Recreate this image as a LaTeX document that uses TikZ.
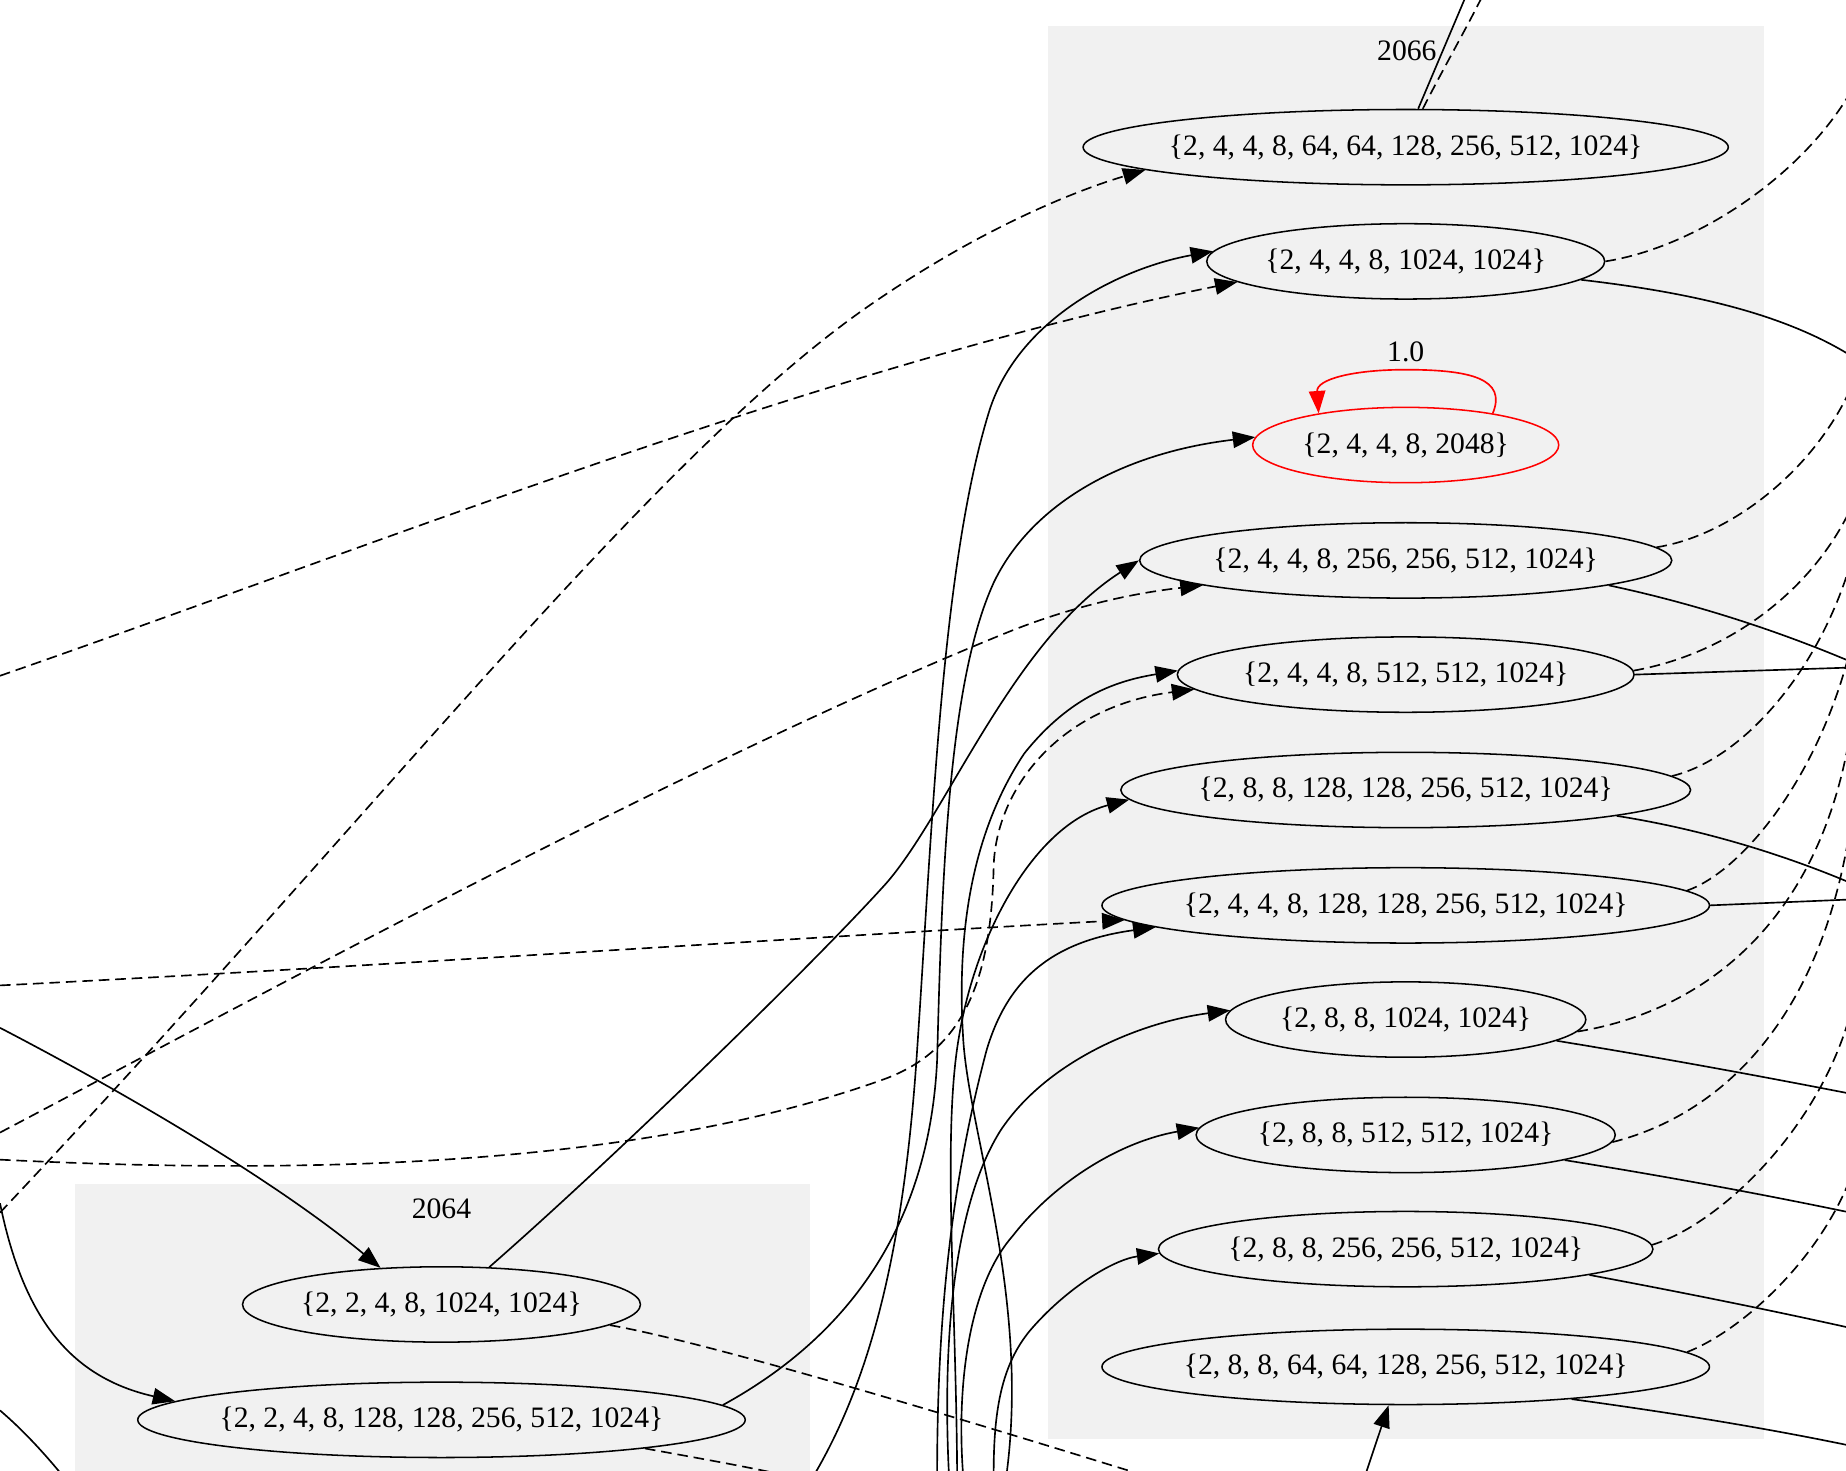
\documentclass[tikz,border=0pt]{standalone}
\usepackage{fontspec}
\setmainfont{Liberation Serif}
\usetikzlibrary{arrows.meta, shapes.geometric}
\definecolor{clusgray}{RGB}{241,241,241}

\tikzset{
  st/.style={draw, ellipse, line width=0.65pt, minimum width=#1, minimum height=32pt, inner xsep=-10pt, inner ysep=1pt},
  edg/.style={line width=0.7pt},
  dsh/.style={edg, dash pattern=on 4.5pt off 2.5pt},
  arr/.style={-{Triangle[length=9.5pt,width=7pt]}}
}

\begin{document}
\begin{tikzpicture}[x=0.5pt, y=-0.5pt, font=\fontsize{12.6pt}{15pt}\selectfont]
\useasboundingbox (0,0) rectangle (1568,1249);
\clip (0,0) rectangle (1568,1249);

% clusters
\fill[clusgray] (890,22) rectangle (1498,1222);
\fill[clusgray] (64,1006) rectangle (688,1260);
\node (l2066) at (1195,43) {2066};
\node (l2064) at (375,1027) {2064};

% states of 2066
\node[st=274pt] (s1) at (1194,125) {\{2, 4, 4, 8, 64, 64, 128, 256, 512, 1024\}};
\node[st=169pt] (s2) at (1194,222) {\{2, 4, 4, 8, 1024, 1024\}};
\node[st=130pt, draw=red] (s3) at (1194,378) {\{2, 4, 4, 8, 2048\}};
\node[st=226pt] (s4) at (1194,476) {\{2, 4, 4, 8, 256, 256, 512, 1024\}};
\node[st=194pt] (s5) at (1194,573) {\{2, 4, 4, 8, 512, 512, 1024\}};
\node[st=242pt] (s6) at (1194,671) {\{2, 8, 8, 128, 128, 256, 512, 1024\}};
\node[st=258pt] (s7) at (1194,769) {\{2, 4, 4, 8, 128, 128, 256, 512, 1024\}};
\node[st=153pt] (s8) at (1194,866) {\{2, 8, 8, 1024, 1024\}};
\node[st=178pt] (s9) at (1194,964) {\{2, 8, 8, 512, 512, 1024\}};
\node[st=210pt] (s10) at (1194,1061) {\{2, 8, 8, 256, 256, 512, 1024\}};
\node[st=258pt] (s11) at (1194,1161) {\{2, 8, 8, 64, 64, 128, 256, 512, 1024\}};

% states of 2064
\node[st=169pt] (m1) at (375,1108) {\{2, 2, 4, 8, 1024, 1024\}};
\node[st=258pt] (m2) at (375,1206) {\{2, 2, 4, 8, 128, 128, 256, 512, 1024\}};

% loose ends at the border
\coordinate (inA) at (0,574);
\coordinate (inB) at (0,1030);
\coordinate (inC) at (0,962);
\coordinate (inD) at (0,837);
\coordinate (inE) at (0,985);
\coordinate (inF) at (0,873);
\coordinate (inG) at (0,1022);
\coordinate (inH) at (0,1198);
\coordinate (outH) at (52,1252);
\coordinate (btL) at (662,1252);
\coordinate (btJ) at (968,1252);
\coordinate (bt2) at (692,1252);
\coordinate (bt5) at (855,1252);
\coordinate (bt6) at (813,1252);
\coordinate (bt7) at (796,1252);
\coordinate (bt8) at (806,1252);
\coordinate (bt9) at (818,1252);
\coordinate (bt10) at (844,1252);
\coordinate (bt11) at (1160,1252);
\coordinate (tp1) at (1245,-3);
\coordinate (tp1d) at (1259,-3);

% from the left
\draw[dsh,arr] (inA) .. controls (300,470) and (700,310) .. (s2.187);
\draw[dsh,arr] (inB) .. controls (330,680) and (560,380) .. (745,255) .. controls (840,190) and (920,160) .. (s1.185);
\draw[dsh,arr] (inC) .. controls (250,830) and (600,640) .. (861,535) .. controls (920,512) and (970,503) .. (s4.187);
\draw[dsh,arr] (inD) .. controls (300,822) and (700,795) .. (s7.183);
\draw[dsh,arr] (inE) .. controls (300,1000) and (560,985) .. (750,917) .. controls (820,892) and (842,830) .. (844,736) .. controls (846,670) and (900,600) .. (s5.184);
\draw[edg,arr] (inF) .. controls (100,925) and (230,1000) .. (m1.149);
\draw[edg,arr] (inG) .. controls (20,1120) and (60,1170) .. (m2.176);
\draw[edg] (inH) .. controls (20,1215) and (38,1235) .. (outH);

% out of 2064
\draw[edg,arr] (m1.38) .. controls (520,985) and (690,820) .. (753,750) .. controls (805,690) and (860,545) .. (s4.180);
\draw[dsh] (m1.353) .. controls (600,1140) and (800,1200) .. (btJ);
\draw[edg,arr] (m2.3) .. controls (730,1130) and (790,1030) .. (796,900) .. controls (800,750) and (805,580) .. (844,495) .. controls (875,430) and (950,385) .. (s3.177);
\draw[dsh] (m2.352) .. controls (590,1238) and (630,1245) .. (btL);

% from below
\draw[edg,arr] (bt2) .. controls (740,1170) and (768,1060) .. (779,892) .. controls (792,700) and (800,480) .. (840,350) .. controls (864,272) and (950,228) .. (s2.177);
\draw[edg,arr] (bt5) .. controls (875,1100) and (822,960) .. (818,880) .. controls (812,780) and (830,700) .. (870,640) .. controls (910,590) and (950,578) .. (s5.179);
\draw[edg,arr] (bt6) .. controls (812,1100) and (800,960) .. (815,878) .. controls (830,790) and (880,700) .. (s6.182);
\draw[edg,arr] (bt7) .. controls (796,1100) and (812,990) .. (838,892) .. controls (855,835) and (890,800) .. (s7.185);
\draw[edg,arr] (bt8) .. controls (800,1130) and (812,1020) .. (850,960) .. controls (890,900) and (970,868) .. (s8.177);
\draw[edg,arr] (bt9) .. controls (812,1170) and (825,1090) .. (860,1050) .. controls (895,1005) and (950,970) .. (s9.178);
\draw[edg,arr] (bt10) .. controls (844,1200) and (850,1160) .. (875,1130) .. controls (905,1095) and (945,1070) .. (s10.181);
\draw[edg,arr] (bt11) -- (s11.246);

% self loop
\draw[edg,arr,red] (s3.20) .. controls (1280,322) and (1250,314) .. (1194,314) .. controls (1150,314) and (1118,322) .. (s3.160);
\node (lp) at (1194,299) {1.0};

% out of 2066
\draw[edg] (s1.72) -- (tp1);
\draw[dsh] (s1.66) .. controls (1225,60) and (1245,25) .. (tp1d);
\draw[dsh] (s2.0) .. controls (1440,210) and (1530,150) .. (1572,78);
\draw[edg] (s2.354) .. controls (1450,250) and (1520,270) .. (1572,302);
\draw[dsh] (s4.3) .. controls (1470,455) and (1540,400) .. (1572,330);
\draw[edg] (s4.353) .. controls (1450,515) and (1520,540) .. (1572,562);
\draw[dsh] (s5.1) .. controls (1470,555) and (1540,500) .. (1572,432);
\draw[edg] (s5.0) -- (1572,567);
\draw[dsh] (s6.3) .. controls (1480,645) and (1545,570) .. (1572,478);
\draw[edg] (s6.353) .. controls (1450,705) and (1520,728) .. (1572,750);
\draw[dsh] (s7.3) .. controls (1480,740) and (1545,660) .. (1572,550);
\draw[edg] (s7.0) -- (1572,764);
\draw[dsh] (s8.356) .. controls (1440,860) and (1545,790) .. (1572,620);
\draw[edg] (s8.352) .. controls (1420,900) and (1500,915) .. (1572,929);
\draw[dsh] (s9.358) .. controls (1450,950) and (1545,880) .. (1572,700);
\draw[edg] (s9.351) .. controls (1420,1000) and (1500,1015) .. (1572,1030);
\draw[dsh] (s10.1) .. controls (1460,1040) and (1545,960) .. (1572,860);
\draw[edg] (s10.352) .. controls (1430,1098) and (1500,1112) .. (1572,1128);
\draw[dsh] (s11.3) .. controls (1480,1130) and (1545,1070) .. (1572,1000);
\draw[edg] (s11.349) .. controls (1420,1200) and (1500,1213) .. (1572,1228);

\end{tikzpicture}
\end{document}
